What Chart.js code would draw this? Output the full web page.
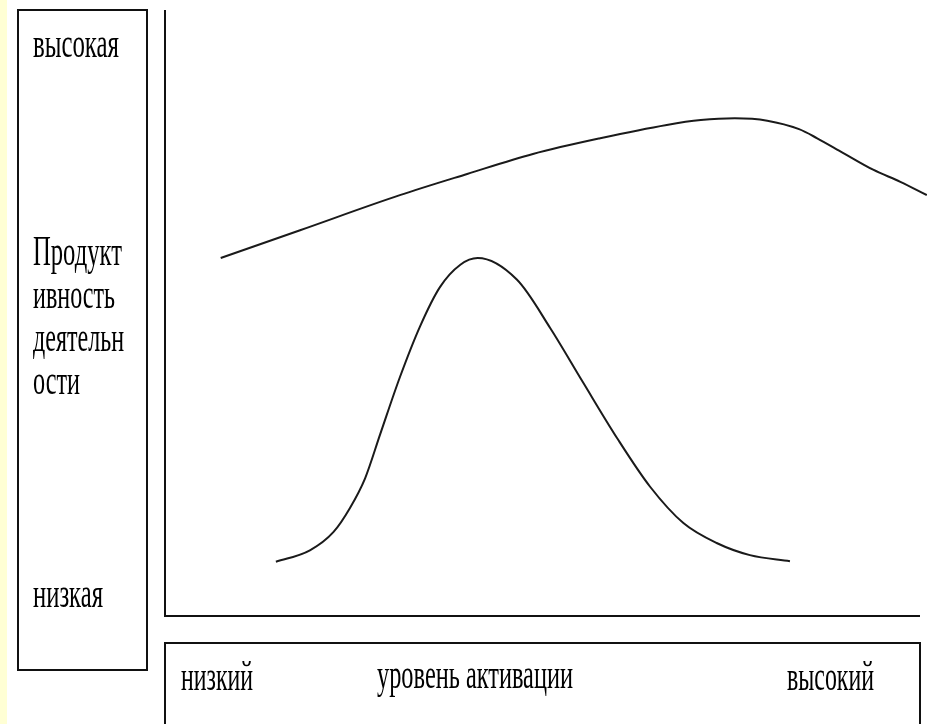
<!DOCTYPE html>
<html>
<head>
<meta charset="utf-8">
<script src="https://cdn.jsdelivr.net/npm/chart.js@4.4.0/dist/chart.umd.min.js"></script>
<style>
  html, body { margin: 0; padding: 0; background: #fff; }
  #wrap { position: relative; width: 927px; height: 724px; overflow: hidden; background: #fff; }
  #strip { position: absolute; left: 0; top: 0; width: 7px; height: 724px; background: #FFFFD4; }
  #chartBox { position: absolute; left: 0; top: 0; width: 927px; height: 724px; }
  .box { position: absolute; box-sizing: border-box; border: 2px solid #111; background: transparent; }
  .lbl { position: absolute; font-family: "Liberation Serif", "DejaVu Serif", serif; font-size: 42px;
         line-height: 42px; color: #000; white-space: nowrap; transform-origin: 0 0; display: inline-block; }
</style>
</head>
<body>
<div id="wrap">
  <div id="strip"></div>
  <div class="box" style="left:17px;top:9px;width:131px;height:662px;"></div>
  <div class="box" style="left:164px;top:642px;width:757px;height:120px;"></div>
  <div id="chartBox"><canvas id="c"></canvas></div>
  <span class="lbl" data-w="86" style="left:33px;top:22px;">высокая</span>
  <span class="lbl" data-w="89" style="left:33px;top:230px;">Продукт</span>
  <span class="lbl" data-w="82" style="left:33px;top:273px;">ивность</span>
  <span class="lbl" data-w="91" style="left:33px;top:316px;">деятельн</span>
  <span class="lbl" data-w="47" style="left:33px;top:359px;">ости</span>
  <span class="lbl" data-w="70" style="left:33px;top:572px;">низкая</span>
  <span class="lbl" data-w="72" style="left:181px;top:655px;">низкий</span>
  <span class="lbl" data-w="196" style="left:377px;top:653px;">уровень активации</span>
  <span class="lbl" data-w="87" style="left:787px;top:655px;">высокий</span>
</div>
<script>
// Activation level (x, 0..100) and productivity (y, 0..100)
const upperX = [7.5, 18.0, 31.2, 40.1, 48.8, 57.7, 66.5, 71.0, 75.5, 79.8, 84.0, 86.4, 89.8, 93.8, 97.4, 100.9];
const upperY = [59.0, 63.6, 69.4, 72.9, 76.2, 78.8, 81.0, 81.8, 82.1, 81.7, 80.3, 78.8, 76.4, 73.6, 71.6, 69.4];
const lowerX = [14.8, 19.3, 22.4, 24.6, 26.6, 28.6, 31.2, 33.9, 36.5, 39.2, 41.5, 46.7, 51.1, 55.4, 59.9, 64.3, 68.7, 73.1, 77.5, 82.8];
const lowerY = [8.8, 10.7, 13.7, 17.7, 22.6, 29.9, 39.3, 47.8, 54.2, 57.9, 59.0, 55.4, 47.4, 38.5, 29.3, 21.2, 15.2, 11.9, 9.9, 8.9];

function pts(xs, ys) { return xs.map((x, i) => ({ x: x, y: ys[i] })); }

const axesPlugin = {
  id: 'axesLines',
  beforeDatasetsDraw(chart) {
    const a = chart.chartArea, ctx = chart.ctx;
    ctx.save();
    ctx.strokeStyle = '#111';
    ctx.lineWidth = 2;
    ctx.beginPath();
    ctx.moveTo(a.left + 1, a.top);
    ctx.lineTo(a.left + 1, a.bottom + 1);
    ctx.lineTo(a.right, a.bottom + 1);
    ctx.stroke();
    ctx.restore();
  }
};

const lineStyle = { showLine: true, borderColor: '#1a1a1a', borderWidth: 2, pointRadius: 0,
  cubicInterpolationMode: 'monotone', fill: false, clip: false };

new Chart(document.getElementById('c'), {
  type: 'scatter',
  data: {
    datasets: [
      Object.assign({ data: pts(upperX, upperY) }, lineStyle),
      Object.assign({ data: pts(lowerX, lowerY) }, lineStyle)
    ]
  },
  options: {
    responsive: true,
    maintainAspectRatio: false,
    animation: false,
    layout: { padding: { left: 164, top: 10, right: 7, bottom: 109 } },
    plugins: { legend: { display: false }, tooltip: { enabled: false } },
    scales: {
      x: { type: 'linear', min: 0, max: 100, display: false },
      y: { type: 'linear', min: 0, max: 100, display: false }
    }
  },
  plugins: [axesPlugin]
});

function fitLabels() {
  document.querySelectorAll('.lbl').forEach(el => {
    el.style.transform = 'none';
    const w = el.getBoundingClientRect().width;
    const target = parseFloat(el.dataset.w);
    if (w > 0) el.style.transform = 'scaleX(' + (target / w) + ')';
  });
}
fitLabels();
if (document.fonts && document.fonts.ready) document.fonts.ready.then(fitLabels);
</script>
</body>
</html>
